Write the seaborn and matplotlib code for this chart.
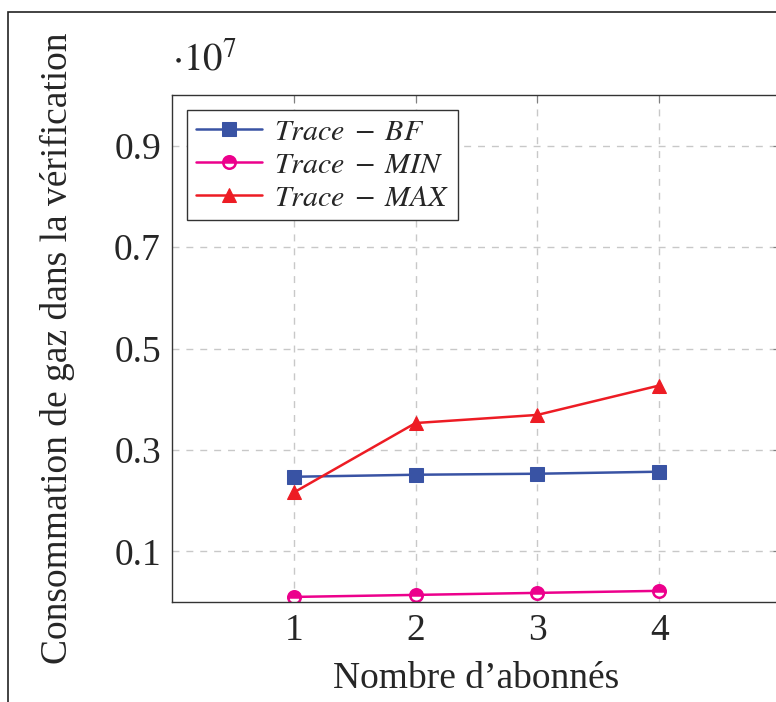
import pandas
import numpy
import matplotlib
matplotlib.use("Agg")
import matplotlib.pyplot as plt
import seaborn

# donnees (unite: 1e7)
abonnes = [1, 2, 3, 4]
trace_bf = [0.247, 0.251, 0.253, 0.257]
trace_min = [0.010, 0.014, 0.018, 0.022]
trace_max = [0.216, 0.353, 0.369, 0.427]
yticks = [0.1, 0.3, 0.5, 0.7, 0.9]

seaborn.set_style("white")
plt.rcParams['font.family'] = ['Liberation Serif', 'DejaVu Serif']
plt.rcParams['mathtext.fontset'] = 'stix'

df = pandas.DataFrame({
    'x': abonnes * 3,
    'y': trace_bf + trace_min + trace_max,
    'serie': ['BF'] * 4 + ['MIN'] * 4 + ['MAX'] * 4,
})

fig = plt.figure(figsize=(7.76, 7.02), dpi=100)
ax = fig.add_axes([172 / 776, 100 / 702, 609 / 776, 507 / 702])

styles = {
    'BF': dict(color='#3953a4', marker='s', markersize=10, label=r'$Trace\;-\;BF$'),
    'MIN': dict(color='#ec008c', marker='o', markersize=9, fillstyle='top',
                markerfacecoloralt='white', markeredgewidth=1.8, label=r'$Trace\;-\;MIN$'),
    'MAX': dict(color='#ed1c24', marker='^', markersize=10, label=r'$Trace\;-\;MAX$'),
}
for nom in ['BF', 'MIN', 'MAX']:
    sous = df[df['serie'] == nom]
    st = dict(styles[nom])
    seaborn.lineplot(data=sous, x='x', y='y', ax=ax, linewidth=1.8,
                     markeredgecolor=st['color'], **st)

ax.set_xlim(0, 5)
ax.set_ylim(0, 1.0)
ax.set_xticks(abonnes)
ax.set_yticks(yticks)
ax.set_xticklabels([str(v) for v in abonnes])
ax.set_yticklabels([str(v) for v in yticks])
ax.grid(True, linestyle=(0, (5, 5)), color='#c8c8c8', linewidth=1.0)
ax.tick_params(axis='both', direction='in', length=6, color='#808080',
               labelsize=27, top=True, right=True, pad=8)
for sp in ax.spines.values():
    sp.set_color('#333333')
    sp.set_linewidth(1.0)

ax.set_xlabel("Nombre d’abonnés", fontsize=27, labelpad=10)
ax.set_ylabel("Consommation de gaz dans la vérification", fontsize=27, labelpad=28)
ax.text(0.0, 1.03, r'$\cdot 10^{7}$', transform=ax.transAxes, fontsize=28,
        ha='left', va='bottom')

leg = ax.legend(loc='upper left', fontsize=21.5, frameon=True, fancybox=False,
                edgecolor='#333333', framealpha=1, handlelength=2.2,
                borderaxespad=0.5, labelspacing=0.2, handletextpad=0.4,
                borderpad=0.3)
leg.get_frame().set_linewidth(1.0)

# cadre de la page
fig.patches.append(plt.Rectangle((8 / 776, -0.1), 1.2, 1.1 - 12 / 702 + 0.0,
                                 transform=fig.transFigure, fill=False,
                                 edgecolor='#222222', linewidth=1.2))

fig.savefig('out.png', dpi=100)
